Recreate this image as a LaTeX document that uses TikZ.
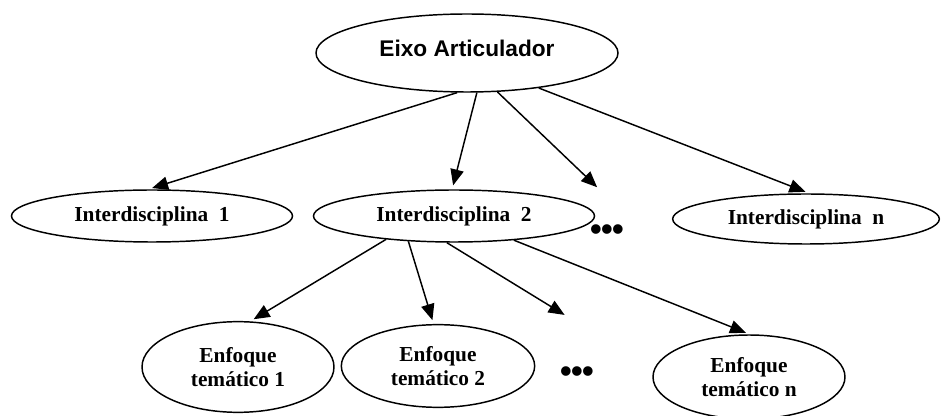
\documentclass[tikz,border=0pt]{standalone}
\usepackage{fontspec}
\setmainfont{Liberation Serif}
\newfontfamily\headfont{Liberation Sans}
\usepackage{tikz}
\usetikzlibrary{arrows.meta,shapes,positioning,calc}

\begin{document}
\begin{tikzpicture}[x=0.75pt, y=-0.75pt,
    oval/.style={draw, ellipse, line width=1.1pt, inner sep=0pt, align=center,
        font=\bfseries\fontsize{16}{18.5}\selectfont},
    link/.style={-{Triangle[length=12pt, width=10pt]}, line width=1.1pt, shorten >=3pt},
    more/.style={inner sep=0pt, font=\headfont\bfseries\fontsize{25}{25}\selectfont}]
    \useasboundingbox (0,0) rectangle (943,416);

    % Ellipse for the articulating axis
    \node[oval, minimum width=226.5pt, minimum height=58.5pt, text height=12pt, text depth=7.3pt,
        font=\headfont\bfseries\fontsize{17}{20}\selectfont] (eixo) at (467,53) {Eixo Articulador};

    % Ellipses for the interdisciplines
    \node[oval, minimum width=210.75pt, minimum height=39pt] (inter1) at (152,216) {Interdisciplina\ \ 1};
    \node[oval, minimum width=210.75pt, minimum height=39pt] (inter2) at (454,216) {Interdisciplina\ \ 2};
    \node[oval, minimum width=200pt, minimum height=37.5pt] (intern) at (806,219) {Interdisciplina\ \ n};
    \node[more] (dots1) at (607,233) {•\kern-0.5pt•\kern-0.5pt•};
    \coordinate (gap1) at (600,190);

    % Ellipses for the thematic focuses
    \node[oval, minimum width=144pt, minimum height=68pt] (enf1) at (238,367) {Enfoque\\temático 1};
    \node[oval, minimum width=145pt, minimum height=62pt] (enf2) at (438,366) {Enfoque\\temático 2};
    \node[oval, minimum width=144pt, minimum height=63pt] (enfn) at (749,377) {Enfoque\\temático n};
    \node[more] (dots2) at (577,375) {•\kern-0.5pt•\kern-0.5pt•};
    \coordinate (gap2) at (568,317);

    % Arrows from the axis to the interdisciplines
    \draw[link] (eixo.256) -- (inter1.98);
    \draw[link] (eixo.284) -- (inter2.94);
    \draw[link] (eixo.308) -- (gap1);
    \draw[link] (eixo.334) -- (intern.83);

    % Arrows from Interdisciplina 2 to the focuses
    \draw[link] (inter2.199) -- (enf1.75);
    \draw[link] (inter2.209) -- (enf2.96);
    \draw[link] (inter2.255) -- (gap2);
    \draw[link] (inter2.338) -- (enfn.89);
\end{tikzpicture}
\end{document}
